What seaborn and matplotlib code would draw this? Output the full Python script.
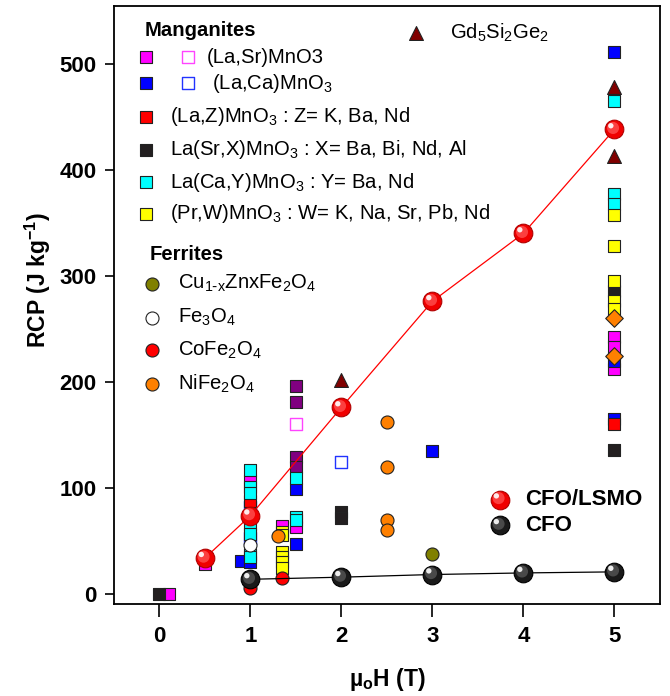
import matplotlib
matplotlib.use("Agg")
import matplotlib.pyplot as plt
import matplotlib.transforms as mtransforms
import seaborn as sns

# ---- RCP (J/kg) versus applied field (T) ----
lsmo_x = [0.1, 0.5, 1, 1.35, 1.5, 5, 5, 5]
lsmo_y = [0, 28, 107, 64, 63, 242, 233, 212]
lsmo_open_x = [1.5]
lsmo_open_y = [160]
lcmo_x = [0.5, 0.9, 1, 1.5, 1.5, 3, 5, 5, 5]
lcmo_y = [35, 31, 30, 99, 47, 135, 511, 220, 165]
lcmo_open_x = [1, 1, 2]
lcmo_open_y = [82, 53, 125]
lzmo_x = [1, 5]
lzmo_y = [88, 160]
lsxmo_x = [0, 2, 2, 5, 5]
lsxmo_y = [0, 77, 72, 286, 136]
lcymo_x = [1, 1, 1, 1, 1, 1, 1, 1.5, 1.5, 1.5, 5, 5, 5]
lcymo_y = [117, 101, 95, 65, 57, 38, 35, 109, 73, 70, 465, 377, 368]
prwmo_x = [1.35, 1.35, 1.35, 1.35, 1.35, 1.35, 5, 5, 5, 5, 5]
prwmo_y = [59, 56, 40, 35, 30, 25, 357, 328, 295, 276, 269]
other_mn_x = [1.5, 1.5, 1.5, 1.5]
other_mn_y = [196, 181, 129, 120]
gd_x = [2, 5, 5]
gd_y = [202, 478, 413]
cuzn_x = [3]
cuzn_y = [38]
fe3o4_x = [1]
fe3o4_y = [46]
cofe_x = [1, 1.35]
cofe_y = [6, 15]
nife_x = [1.3, 2.5, 2.5, 2.5, 2.5]
nife_y = [55, 162, 120, 70, 60]
nife_d_x = [5, 5]
nife_d_y = [260, 224]
cfo_lsmo_x = [0.5, 1, 2, 3, 4, 5]
cfo_lsmo_y = [34, 74, 176, 276, 340, 438]
cfo_x = [1, 2, 3, 4, 5]
cfo_y = [14, 16, 18.5, 20, 21]

x_ticks = [0, 1, 2, 3, 4, 5]
y_ticks = [0, 100, 200, 300, 400, 500]

manganite_labels = ["(La,Sr)MnO3", "(La,Ca)MnO$_3$",
                    "(La,Z)MnO$_3$ : Z= K, Ba, Nd",
                    "La(Sr,X)MnO$_3$ : X= Ba, Bi, Nd, Al",
                    "La(Ca,Y)MnO$_3$ : Y= Ba, Nd",
                    "(Pr,W)MnO$_3$ : W= K, Na, Sr, Pb, Nd"]
ferrite_labels = ["Cu$_{1\\text{-}x}$ZnxFe$_2$O$_4$", "Fe$_3$O$_4$",
                  "CoFe$_2$O$_4$", "NiFe$_2$O$_4$"]

sns.set_theme(style="ticks")
plt.rcParams["font.family"] = ["Liberation Sans", "DejaVu Sans"]
plt.rcParams["mathtext.default"] = "regular"
plt.rcParams["text.color"] = "black"
plt.rcParams["axes.labelcolor"] = "black"
plt.rcParams["xtick.color"] = "black"
plt.rcParams["ytick.color"] = "black"

fig = plt.figure(figsize=(6.7, 6.96), dpi=100)
ax = fig.add_axes([0.170, 0.132, 0.815, 0.859])

EDGE = "#222222"
SQ = 64


def pts(x, y, marker, color, s=SQ, edge=EDGE, lw=0.8, z=3):
    sns.scatterplot(x=x, y=y, ax=ax, marker=marker, color=color, s=s,
                    edgecolor=edge, linewidth=lw, zorder=z, legend=False)


# literature compounds
pts(other_mn_x, other_mn_y, "s", "#800080")
pts(lsmo_x, lsmo_y, "s", "#ff00ff")
pts(lsmo_open_x, lsmo_open_y, "s", "white", edge="#ff44ff", lw=1.0)
pts(lcmo_x, lcmo_y, "s", "#0000ff")
pts(lcmo_open_x, lcmo_open_y, "s", "white", edge="#2233ff", lw=1.0)
pts(lzmo_x, lzmo_y, "s", "#ff0000")
pts(lsxmo_x, lsxmo_y, "s", "#231f20")
pts(lcymo_x, lcymo_y, "s", "#00ffff")
pts(prwmo_x, prwmo_y, "s", "#ffff00")
pts(gd_x, gd_y, "^", "#800000", s=100)
pts(cuzn_x, cuzn_y, "o", "#808000", s=88)
pts(fe3o4_x, fe3o4_y, "o", "white", s=88)
pts(cofe_x, cofe_y, "o", "#ff0000", s=88)
pts(nife_x, nife_y, "o", "#ff8000", s=88)
pts(nife_d_x, nife_d_y, "D", "#ff8000", s=80)

# present work: lines and shaded spheres
sns.lineplot(x=cfo_lsmo_x, y=cfo_lsmo_y, ax=ax, color="#ff0000", lw=0.9,
             zorder=5)
sns.lineplot(x=cfo_x, y=cfo_y, ax=ax, color="black", lw=0.9, zorder=5)


def sphere(x, y, base, edge, mid, trans_ax=False):
    t_base = ax.transAxes if trans_ax else ax.transData
    t1 = mtransforms.offset_copy(t_base, fig=fig, x=-1.0, y=1.0,
                                 units="points")
    t2 = mtransforms.offset_copy(t_base, fig=fig, x=-2.6, y=2.6,
                                 units="points")
    ax.scatter(x, y, s=180, c=base, edgecolors=edge, linewidths=0.8,
               zorder=6, transform=t_base, clip_on=False)
    ax.scatter(x, y, s=75, c=mid, edgecolors="none", zorder=7,
               transform=t1, clip_on=False, alpha=0.8)
    ax.scatter(x, y, s=15, c="white", edgecolors="none", zorder=8,
               transform=t2, clip_on=False, alpha=0.9)


sphere(cfo_lsmo_x, cfo_lsmo_y, "#f00000", "#b00000", "#ff5050")
sphere(cfo_x, cfo_y, "#1a1a1a", "#000000", "#555555")

ax.set_xlim(-0.5, 5.5)
ax.set_ylim(-9.4, 554)
ax.set_xticks(x_ticks)
ax.set_yticks(y_ticks)
ax.tick_params(axis="both", direction="out", width=1.2, labelsize=16,
               top=False, right=False)
ax.tick_params(axis="x", length=9, pad=7)
ax.tick_params(axis="y", length=6.5, pad=6)
for lab in ax.get_xticklabels() + ax.get_yticklabels():
    lab.set_fontweight("bold")
for sp in ax.spines.values():
    sp.set_visible(True)
    sp.set_color("black")
    sp.set_linewidth(1.3)
ax.set_xlabel("µ$_o$H (T)", fontsize=16.5, fontweight="bold")
ax.set_ylabel("RCP (J kg$^{-1}$)", fontsize=16.5, fontweight="bold")
ax.xaxis.set_label_coords(0.5, -0.104)
ax.yaxis.set_label_coords(-0.112, 0.542)

# key for the compound families
TA = ax.transAxes
FS = 14.6
ax.text(0.057, 0.960, "Manganites", transform=TA, fontsize=FS,
        fontweight="bold", va="center", ha="left")
row_y = [0.915, 0.871, 0.815, 0.760, 0.706, 0.653]
row_col = ["#ff00ff", "#0000ff", "#ff0000", "#231f20", "#00ffff", "#ffff00"]
text_x = [0.170, 0.179, 0.103, 0.103, 0.103, 0.103]
for yy, col, tx, lab in zip(row_y, row_col, text_x, manganite_labels):
    ax.scatter([0.058], [yy], marker="s", s=SQ, c=col, edgecolors=EDGE,
               linewidths=0.8, transform=TA, zorder=9)
    ax.text(tx, yy, lab, transform=TA, fontsize=FS, va="center", ha="left")
ax.scatter([0.136], [row_y[0]], marker="s", s=SQ, c="white",
           edgecolors="#ff44ff", linewidths=1.0, transform=TA, zorder=9)
ax.scatter([0.136], [row_y[1]], marker="s", s=SQ, c="white",
           edgecolors="#2233ff", linewidths=1.0, transform=TA, zorder=9)

ax.scatter([0.553], [0.955], marker="^", s=100, c="#800000",
           edgecolors=EDGE, linewidths=0.8, transform=TA, zorder=9)
ax.text(0.615, 0.955, "Gd$_5$Si$_2$Ge$_2$", transform=TA, fontsize=FS,
        va="center", ha="left")

ax.text(0.066, 0.584, "Ferrites", transform=TA, fontsize=FS,
        fontweight="bold", va="center", ha="left")
fer_y = [0.536, 0.479, 0.425, 0.369]
fer_col = ["#808000", "white", "#ff0000", "#ff8000"]
for yy, col, lab in zip(fer_y, fer_col, ferrite_labels):
    ax.scatter([0.069], [yy], marker="o", s=88, c=col, edgecolors=EDGE,
               linewidths=0.8, transform=TA, zorder=9)
    ax.text(0.118, yy, lab, transform=TA, fontsize=FS, va="center",
            ha="left")

# key for this work
sphere([0.707], [0.175], "#f00000", "#b00000", "#ff5050", trans_ax=True)
sphere([0.707], [0.132], "#1a1a1a", "#000000", "#555555", trans_ax=True)
ax.text(0.753, 0.175, "CFO/LSMO", transform=TA, fontsize=16,
        fontweight="bold", va="center", ha="left")
ax.text(0.753, 0.132, "CFO", transform=TA, fontsize=16,
        fontweight="bold", va="center", ha="left")

fig.savefig("out.png", dpi=100, facecolor="white")
